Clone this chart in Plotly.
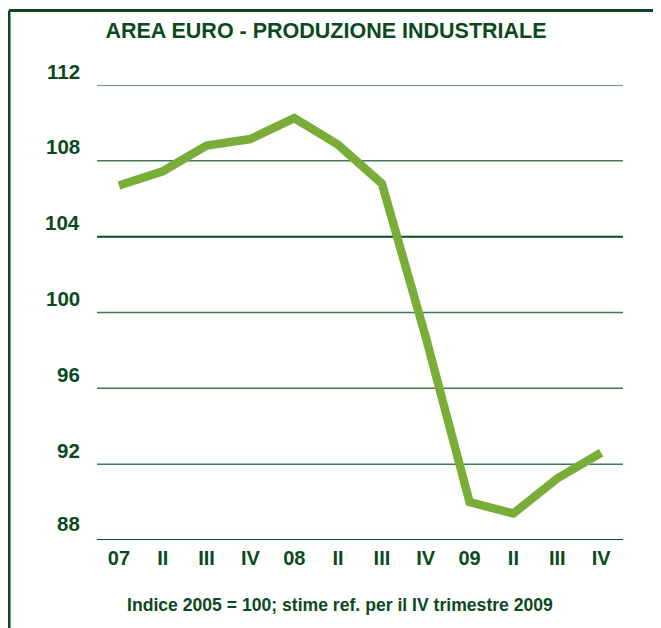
import plotly.graph_objects as go

categories = ["07", "II", "III", "IV", "08", "II ", "III ", "IV ", "09", "II  ", "III  ", "IV  "]
tick_labels = ["07", "II", "III", "IV", "08", "II", "III", "IV", "09", "II", "III", "IV"]
production = [106.7, 107.45, 108.8, 109.15, 110.25, 108.85, 106.8, 98.7, 90.0, 89.4, 91.25, 92.6]
y_ticks = [112, 108, 104, 100, 96, 92, 88]
dark_lines = [104, 88]

title_text = "AREA EURO - PRODUZIONE INDUSTRIALE"
footer_text = "Indice 2005 = 100; stime ref. per il IV trimestre 2009"

TEXT = "#0b4a21"
GRID = "#3f7a55"
DARK = "#0b4a21"
LINE = "#7aad37"
FONT = "Liberation Sans, Arial, sans-serif"

W, H = 653, 620

fig = go.Figure()
fig.add_trace(go.Scatter(
    x=list(range(len(categories))), y=production, mode="lines",
    line=dict(color=LINE, width=8.5),
    hoverinfo="skip", showlegend=False,
))

fig.update_layout(
    width=W, height=H,
    margin=dict(l=89, r=38, t=77, b=88),
    paper_bgcolor="white", plot_bgcolor="white",
    font=dict(family=FONT, color=TEXT),
    title=dict(text="<b>" + title_text + "</b>", x=318 / W, xref="container", xanchor="center",
               y=1 - 22 / H, yref="container", yanchor="middle",
               font=dict(size=21.5, color=TEXT, family=FONT)),
    xaxis=dict(range=[-0.5, len(categories) - 0.5], tickmode="array",
               tickvals=list(range(len(categories))),
               ticktext=["<b>" + t + "</b>" for t in tick_labels],
               tickfont=dict(size=20, color=TEXT, family=FONT),
               showgrid=False, zeroline=False, showline=False, ticks="",
               ticklabelstandoff=4),
    yaxis=dict(range=[88, 112], tickmode="array", tickvals=y_ticks,
               showticklabels=False, showgrid=False,
               zeroline=False, showline=False, ticks=""),
)

for v in y_ticks:
    dark = v in dark_lines
    fig.add_shape(type="line", xref="paper", yref="y", x0=0, x1=1, y0=v, y1=v,
                  line=dict(color=DARK if dark else GRID, width=2 if dark else 1.5),
                  layer="below")
    fig.add_annotation(x=0, xref="paper", y=v, yref="y", text="<b>%d</b>" % v,
                       showarrow=False, xanchor="right", yanchor="middle",
                       xshift=-15, yshift=17 if v == 88 else 14,
                       font=dict(size=20.5, color=TEXT, family=FONT))

fig.add_annotation(x=0.462, xref="paper", y=-0.143, yref="paper",
                   text="<b>" + footer_text + "</b>", showarrow=False,
                   xanchor="center", yanchor="middle",
                   font=dict(size=17.6, color=TEXT, family=FONT))

# frame (left and top border)
fig.add_shape(type="line", xref="paper", yref="paper", x0=-0.1673, x1=-0.1673, y0=1.1637, y1=-0.2,
              line=dict(color=DARK, width=3))
fig.add_shape(type="line", xref="paper", yref="paper", x0=-0.1673, x1=1.08, y0=1.1637, y1=1.1637,
              line=dict(color=DARK, width=3))

fig.write_html("out.html")
